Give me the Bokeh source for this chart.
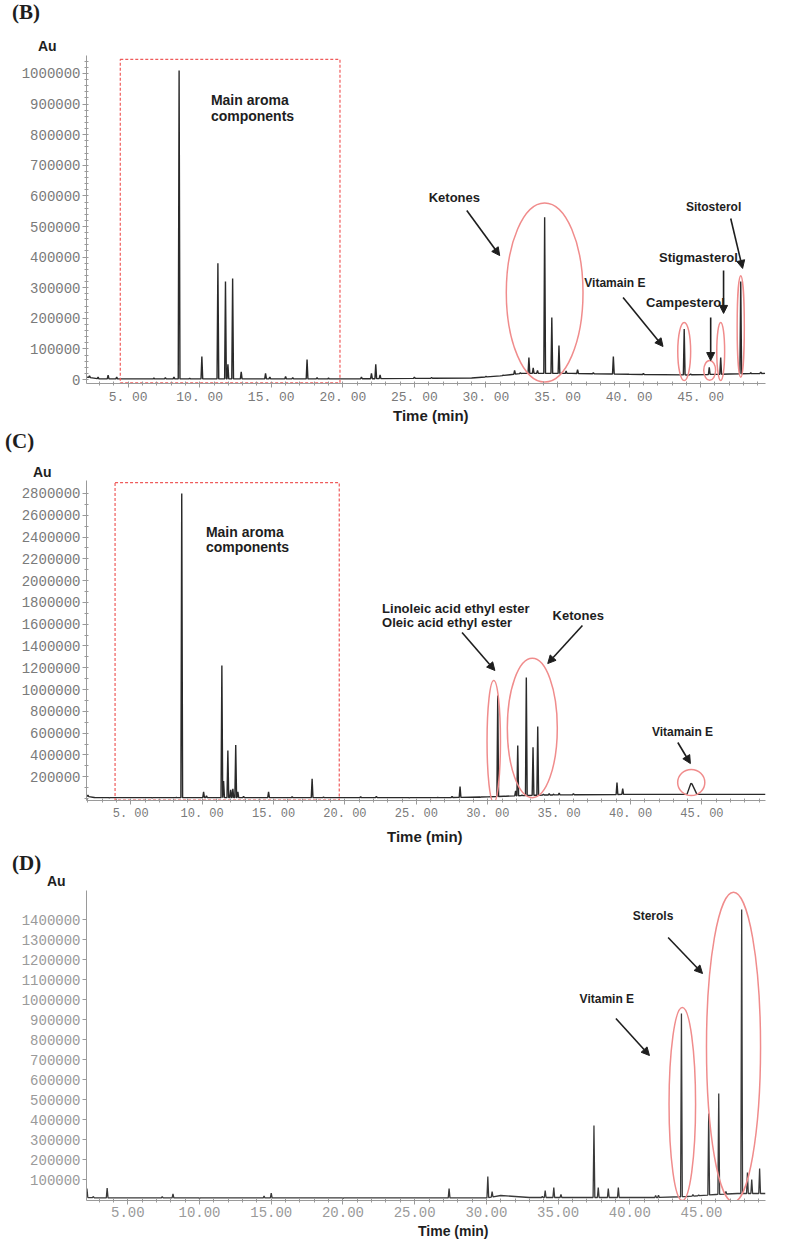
import numpy as np
from bokeh.plotting import figure
from bokeh.layouts import column
from bokeh.models import Label, Arrow, NormalHead, FixedTicker, Range1d, Div
from bokeh.embed import file_html
from bokeh.resources import INLINE

# ---------------- (B) ----------------
b_peak_t = [2.3, 2.9, 3.6, 4.2, 6.8, 7.6, 8.2, 8.56, 9.3, 10.15, 11.27, 11.8, 11.97, 12.3,
            12.9, 14.6, 14.9, 16.0, 16.5, 17.5, 18.2, 19.0, 21.3, 22.0, 22.3, 22.6, 25.0,
            26.2, 30.0, 31.2, 32.0, 32.4, 33.0, 33.3, 33.6, 34.1, 34.6, 35.1, 35.6, 36.4,
            37.5, 38.9, 41.0, 43.85, 44.3, 45.6, 46.4, 47.8, 48.5, 49.2]
b_peak_h = [12000, 8000, 14000, 8000, 5000, 6000, 8000, 1010000, 4000, 75000, 380000, 320000,
            50000, 330000, 25000, 20000, 8000, 10000, 6000, 65000, 6000, 5000, 8000, 20000,
            50000, 15000, 8000, 6000, 10000, 14000, 30000, 22000, 72000, 38000, 30000, 530000,
            203000, 111000, 28000, 32000, 22000, 75000, 20000, 165000, 18000, 40000, 72000,
            320000, 22000, 24000]
b_base_t = [2.09, 3.0, 20.0, 29.0, 31.0, 32.5, 36.0, 40.0, 44.0, 47.0, 49.5]
b_base_v = [8000, 2000, 2000, 5000, 12000, 20000, 20000, 17000, 15000, 18000, 20000]
b_xticks = [5, 10, 15, 20, 25, 30, 35, 40, 45]
b_xlabels = ["5. 00", "10. 00", "15. 00", "20. 00", "25. 00", "30. 00", "35. 00", "40. 00", "45. 00"]
b_yticks = [0, 100000, 200000, 300000, 400000, 500000, 600000, 700000, 800000, 900000, 1000000]
b_ylabels = ["0", "100000", "200000", "300000", "400000", "500000", "600000", "700000",
             "800000", "900000", "1000000"]

# ---------------- (C) ----------------
c_peak_t = [2.0, 2.5, 3.5, 6.5, 8.2, 8.57, 10.1, 10.3, 11.38, 11.5, 11.8, 12.0, 12.15, 12.35,
            12.5, 12.9, 14.65, 15.3, 16.3, 17.7, 18.5, 18.9, 21.1, 22.2, 24.5, 26.5, 27.5,
            28.06, 29.5, 30.7, 31.2, 31.95, 32.1, 32.4, 32.7, 33.17, 33.5, 33.9, 34.3, 34.6,
            35.0, 36.0, 39.05, 39.45]
c_peak_h = [30000, 8000, 5000, 5000, 10000, 2800000, 60000, 25000, 1220000, 160000, 440000,
            80000, 90000, 490000, 60000, 20000, 60000, 8000, 15000, 180000, 12000, 8000, 15000,
            20000, 6000, 10000, 20000, 110000, 12000, 946000, 20000, 70000, 487000, 30000,
            1110000, 470000, 661000, 40000, 45000, 40000, 50000, 45000, 147000, 90000]
c_broad_t = [44.3]
c_broad_h = [138000]
c_broad_w = [0.35]
c_base_t = [1.9, 2.5, 27.0, 30.0, 32.0, 34.0, 36.0, 40.0, 45.0, 49.45]
c_base_v = [20000, 8000, 8000, 15000, 25000, 32000, 35000, 38000, 38000, 38000]
c_xticks = [5, 10, 15, 20, 25, 30, 35, 40, 45]
c_xlabels = ["5. 00", "10. 00", "15. 00", "20. 00", "25. 00", "30. 00", "35. 00", "40. 00", "45. 00"]
c_yticks = [200000, 400000, 600000, 800000, 1000000, 1200000, 1400000, 1600000, 1800000,
            2000000, 2200000, 2400000, 2600000, 2800000]
c_ylabels = ["200000", "400000", "600000", "800000", "1000000", "1200000", "1400000",
             "1600000", "1800000", "2000000", "2200000", "2400000", "2600000", "2800000"]

# ---------------- (D) ----------------
d_peak_t = [2.15, 2.6, 3.56, 5.0, 7.4, 8.15, 10.0, 14.5, 15.0, 20.0, 27.4, 30.1, 30.4, 33.9,
            34.1, 34.7, 35.2, 37.5, 37.8, 38.5, 39.2, 41.8, 42.0, 43.6, 44.4, 44.8, 45.5,
            46.2, 46.7, 47.8, 48.2, 48.5, 49.05]
d_peak_h = [55000, 15000, 57000, 8000, 15000, 28000, 6000, 18000, 32000, 6000, 55000, 115000,
            40000, 15000, 45000, 60000, 25000, 370000, 60000, 55000, 60000, 20000, 22000,
            930000, 25000, 22000, 430000, 530000, 40000, 1450000, 135000, 100000, 155000]
d_base_t = [2.12, 3.0, 30.0, 31.0, 33.0, 42.0, 44.0, 46.0, 47.5, 49.46]
d_base_v = [10000, 8000, 8000, 20000, 10000, 10000, 15000, 25000, 30000, 30000]
d_xticks = [5, 10, 15, 20, 25, 30, 35, 40, 45]
d_xlabels = ["5.00", "10.00", "15.00", "20.00", "25.00", "30.00", "35.00", "40.00", "45.00"]
d_yticks = [100000, 200000, 300000, 400000, 500000, 600000, 700000, 800000, 900000,
            1000000, 1100000, 1200000, 1300000, 1400000]
d_ylabels = ["100000", "200000", "300000", "400000", "500000", "600000", "700000", "800000",
             "900000", "1000000", "1100000", "1200000", "1300000", "1400000"]

SPIKE = 0.06
TRACE = "#2a2a2a"
RING = "#f08c8c"
BOX = "#ef5b5b"
INK = "#1e1e1e"
W = 786


def trace(peak_t, peak_h, base_t, base_v, broad_t=(), broad_h=(), broad_w=()):
    """Chromatogram polyline: baseline knots plus a triangular spike per peak."""
    pts = []
    spans = []
    for t, h in zip(peak_t, peak_h):
        pts += [(t - SPIKE, np.interp(t - SPIKE, base_t, base_v)), (t, h),
                (t + SPIKE, np.interp(t + SPIKE, base_t, base_v))]
        spans.append((t - SPIKE, t + SPIKE))
    for t, h, w in zip(broad_t, broad_h, broad_w):
        pts += [(t - w, np.interp(t - w, base_t, base_v)), (t - 0.08, h), (t, h * 0.97),
                (t + w, np.interp(t + w, base_t, base_v))]
        spans.append((t - w, t + w))
    for t, v in zip(base_t, base_v):
        if not any(a <= t <= b for a, b in spans):
            pts.append((t, v))
    pts.sort(key=lambda q: q[0])
    return [q[0] for q in pts], [q[1] for q in pts]


def panel(height, xr, yr, borders, xticks, xlabels, yticks, ylabels, xfont, yfont, tick_color,
          yminor):
    left, right, bottom = borders
    p = figure(width=W, height=height, x_range=Range1d(*xr), y_range=Range1d(*yr),
               output_backend="svg", toolbar_location=None,
               min_border_left=left, min_border_right=right,
               min_border_top=0, min_border_bottom=bottom)
    p.grid.visible = False
    p.outline_line_color = None
    for ax in (p.xaxis[0], p.yaxis[0]):
        ax.axis_line_color = "#9a9a9a"
        ax.axis_line_width = 1
        ax.major_tick_line_color = "#9a9a9a"
        ax.minor_tick_line_color = "#9a9a9a"
        ax.major_tick_out = 4
        ax.major_tick_in = 0
        ax.minor_tick_out = 2
        ax.minor_tick_in = 2
        ax.major_label_text_font = "Liberation Mono"
        ax.major_label_text_color = tick_color
    p.xaxis.ticker = FixedTicker(ticks=xticks, minor_ticks=list(range(2, 50)))
    p.xaxis.major_label_overrides = dict(zip(xticks, xlabels))
    p.xaxis.major_label_text_font_size = xfont
    p.xaxis.major_label_standoff = 2
    p.yaxis.ticker = FixedTicker(ticks=yticks, minor_ticks=yminor)
    p.yaxis.major_label_overrides = dict(zip(yticks, ylabels))
    p.yaxis.major_label_text_font_size = yfont
    p.yaxis.major_label_standoff = 2
    return p


def band(height, items):
    """Text band between panels; items are (text, left px, top px, size px, family)."""
    spans = []
    for text, x, y, size, family in items:
        spans.append(
            f'<span style="position:absolute;left:{x}px;top:{y}px;font-family:\'{family}\';'
            f'font-weight:bold;font-size:{size}px;line-height:1;color:{INK};'
            f'white-space:nowrap;">{text}</span>')
    html = (f'<div style="position:relative;width:{W}px;height:{height}px;overflow:hidden;">'
            + "".join(spans) + "</div>")
    return Div(text=html, width=W, height=height, margin=0)


def note(p, text, x, y, size="13px"):
    p.add_layout(Label(x=x, y=y, text=text, text_font="Liberation Sans",
                       text_font_style="bold", text_font_size=size, text_color=INK,
                       text_baseline="middle", text_align="left"))


def arrow(p, x0, y0, x1, y1):
    p.add_layout(Arrow(end=NormalHead(size=8, fill_color=INK, line_color=INK),
                       x_start=x0, y_start=y0, x_end=x1, y_end=y1,
                       line_color=INK, line_width=1.6))


SERIF = "Liberation Serif"
SANS = "Liberation Sans"

# ---------------- panel B ----------------
sB = band(55, [("(B)", 12, 2, 21, SERIF), ("Au", 38, 39, 14, SANS)])

pB = panel(352, (2.09, 49.53), (-13000, 1058800), (83, 21, 24), b_xticks, b_xlabels,
           b_yticks, b_ylabels, "13px", "14px", "#7a7a7a", list(range(0, 1060000, 20000)))
xs, ys = trace(b_peak_t, b_peak_h, b_base_t, b_base_v)
pB.line(xs, ys, line_color=TRACE, line_width=1.4)
pB.quad(left=[4.45], right=[19.8], bottom=[-11000], top=[1046000], fill_color=None,
        line_color=BOX, line_dash="3 2", line_width=1.2)
pB.ellipse(x=[34.1, 43.85, 45.63, 46.4, 47.8], y=[284000, 91500, 30000, 91500, 173000],
           width=[5.36, 0.9, 0.83, 0.55, 0.5], height=[585000, 190000, 65000, 190000, 333000],
           fill_color=None, line_color=RING, line_width=1.5)
note(pB, "Main aroma", 10.78, 912000, size="14px")
note(pB, "components", 10.78, 860000, size="14px")
note(pB, "Ketones", 26.0, 595000)
arrow(pB, 28.66, 552000, 30.96, 405000)
note(pB, "Vitamain E", 36.87, 314000, size="12px")
arrow(pB, 39.58, 268000, 42.37, 108000)
note(pB, "Campesterol", 41.18, 252000)
arrow(pB, 45.7, 203000, 45.7, 62000)
note(pB, "Stigmasterol", 42.09, 399000)
arrow(pB, 46.6, 356000, 46.6, 216000)
note(pB, "Sitosterol", 43.97, 565000, size="12px")
arrow(pB, 47.1, 526000, 47.93, 363000)

# ---------------- panel C ----------------
sBC = band(73, [("Time (min)", 393, 1, 15, SANS), ("(C)", 5, 24, 21, SERIF),
                ("Au", 33, 58, 14, SANS)])

pC = panel(344, (1.9, 49.45), (-18360, 2919240), (78, 3, 24), c_xticks, c_xlabels,
           c_yticks, c_ylabels, "12px", "14px", "#7a7a7a", list(range(0, 2900000, 100000)))
xs, ys = trace(c_peak_t, c_peak_h, c_base_t, c_base_v, c_broad_t, c_broad_h, c_broad_w)
pC.line(xs, ys, line_color=TRACE, line_width=1.4)
pC.quad(left=[3.9], right=[19.6], bottom=[-15000], top=[2900000], fill_color=None,
        line_color=BOX, line_dash="3 2", line_width=1.2)
pC.ellipse(x=[30.42, 33.12, 44.25], y=[523000, 647000, 147000], width=[0.94, 3.5, 1.9],
           height=[1120000, 1280000, 240000], fill_color=None, line_color=RING, line_width=1.5)
note(pC, "Main aroma", 10.26, 2442000, size="14px")
note(pC, "components", 10.26, 2313000, size="14px")
note(pC, "Linoleic acid ethyl ester", 22.6, 1744000, size="13px")
note(pC, "Oleic acid ethyl ester", 22.6, 1616000, size="13px")
arrow(pC, 28.2, 1524000, 30.5, 1175000)
note(pC, "Ketones", 34.54, 1680000)
arrow(pC, 36.63, 1588000, 34.2, 1239000)
note(pC, "Vitamain E", 41.5, 606000, size="12px")
arrow(pC, 43.31, 514000, 44.19, 321000)

# ---------------- panel D ----------------
sCD = band(66, [("Time (min)", 387, 5, 15, SANS), ("(D)", 12, 29, 21, SERIF),
                ("Au", 47, 50, 14, SANS)])

pD = panel(334, (2.12, 49.46), (-5000, 1545000), (86, 10, 24), d_xticks, d_xlabels,
           d_yticks, d_ylabels, "14px", "14px", "#9a9a9a", [])
xs, ys = trace(d_peak_t, d_peak_h, d_base_t, d_base_v)
pD.line(xs, ys, line_color="#3a3a3a", line_width=1.3)
pD.ellipse(x=[43.66, 47.23], y=[477000, 762000], width=[1.85, 3.77], height=[965000, 1550000],
           fill_color=None, line_color=RING, line_width=1.5)
note(pD, "Sterols", 40.2, 1420000, size="12px")
arrow(pD, 42.67, 1310000, 45.07, 1130000)
note(pD, "Vitamin E", 36.5, 1005000, size="12px")
arrow(pD, 39.03, 905000, 41.37, 720000)

sD = band(15, [("Time (min)", 418, 0, 14, SANS)])

layout = column(sB, pB, sBC, pC, sCD, pD, sD, spacing=0)
open("out.html", "w").write(file_html(layout, INLINE))
